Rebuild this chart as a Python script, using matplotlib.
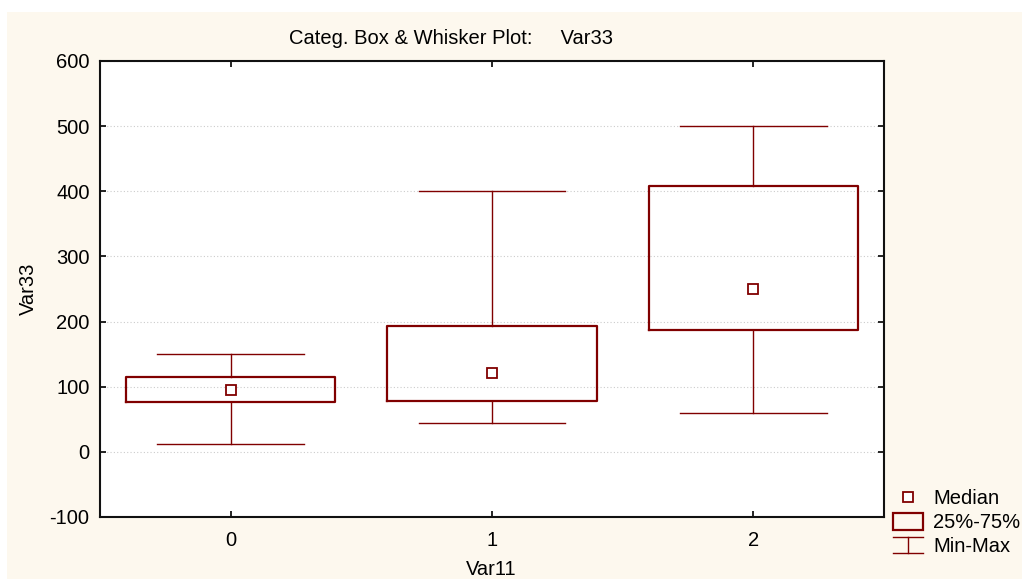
import matplotlib
matplotlib.use("Agg")
import matplotlib.pyplot as plt
from matplotlib.patches import Rectangle
from matplotlib.lines import Line2D

plt.rcParams['font.family'] = ['Liberation Sans', 'DejaVu Sans']

categories = ["0", "1", "2"]
mins = [12, 44, 60]
q1 = [76, 78, 187]
medians = [95, 121, 250]
q3 = [115, 193, 408]
maxs = [150, 400, 500]
y_ticks = [-100, 0, 100, 200, 300, 400, 500, 600]

RED = "#800000"
CREAM = "#FDF8EE"
FS = 14.5

fig = plt.figure(figsize=(10.22, 5.79), dpi=100)
fig.patch.set_facecolor("white")
fig.patches.append(Rectangle((7/1022, 0), 1.0, 1 - 12/579, transform=fig.transFigure,
                             facecolor=CREAM, edgecolor="none", zorder=-10))

ax = fig.add_axes([100/1022, 62/579, 784/1022, 456/579])
ax.set_facecolor("white")

stats = []
for c, lo, a, m, b, hi in zip(categories, mins, q1, medians, q3, maxs):
    stats.append(dict(label=c, whislo=lo, q1=a, med=m, q3=b, whishi=hi, fliers=[]))

pos = list(range(len(categories)))
ax.bxp(stats, positions=pos, widths=0.8, capwidths=0.56, showfliers=False, patch_artist=False,
       boxprops=dict(color=RED, linewidth=1.6),
       whiskerprops=dict(color=RED, linewidth=1.0),
       capprops=dict(color=RED, linewidth=1.0),
       medianprops=dict(linewidth=0, color=RED))
ax.plot(pos, medians, linestyle="none", marker="s", markersize=7, markerfacecolor="white",
        markeredgecolor=RED, markeredgewidth=1.3, zorder=5)

ax.set_xlim(-0.5, 2.5)
ax.set_ylim(-100, 600)
ax.set_yticks(y_ticks)
ax.set_yticklabels([str(v) for v in y_ticks])
ax.set_xticks(pos)
ax.set_xticklabels(categories)
ax.yaxis.grid(True, linestyle=(0, (1, 2)), color="#cccccc", linewidth=0.8)
ax.set_axisbelow(True)
ax.tick_params(axis="both", direction="in", length=4, width=1.2, labelsize=FS, colors="black",
               top=True, right=True)
ax.tick_params(axis="y", pad=7.5)
ax.tick_params(axis="x", pad=10)
for s in ax.spines.values():
    s.set_linewidth(1.5)
    s.set_color("#111111")

def fx(x): return x / 1022
def fy(y): return 1 - y / 579

fig.text(fx(28), fy(289), "Var33", rotation=90, ha="center", va="center", fontsize=FS)
fig.text(fx(491), fy(575), "Var11", ha="center", va="baseline", fontsize=FS)
fig.text(fx(451), fy(44), "Categ. Box & Whisker Plot:     Var33", ha="center", va="baseline",
         fontsize=FS)

# legend (drawn in figure pixel coordinates)
fig.lines.append(Line2D([fx(908)], [fy(497)], transform=fig.transFigure, linestyle="none",
                        marker="s", markersize=7, markerfacecolor="white", markeredgecolor=RED,
                        markeredgewidth=1.3))
fig.patches.append(Rectangle((fx(893), fy(530)), fx(923) - fx(893), fy(513) - fy(530),
                             transform=fig.transFigure, facecolor="none", edgecolor=RED, linewidth=1.6))
for xs, ys in [([893, 923], [537, 537]), ([893, 923], [553, 553]), ([908, 908], [537, 553])]:
    fig.lines.append(Line2D([fx(v) for v in xs], [fy(v) for v in ys], transform=fig.transFigure,
                            color=RED, linewidth=1.0))
for txt, y in [("Median", 504), ("25%-75%", 528), ("Min-Max", 552)]:
    fig.text(fx(933), fy(y), txt, ha="left", va="baseline", fontsize=FS)

fig.savefig("out.png", dpi=100)
